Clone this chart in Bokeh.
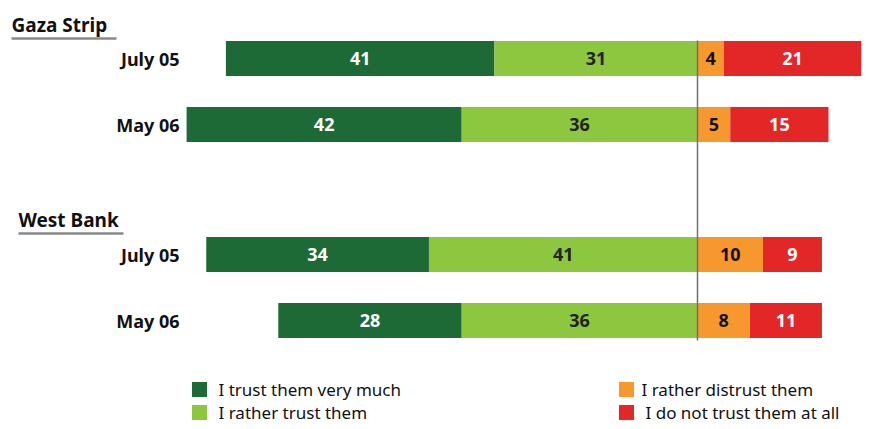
from bokeh.plotting import figure
from bokeh.models import Range1d, ColumnDataSource
from bokeh.core.properties import value
from bokeh.embed import file_html
from bokeh.resources import INLINE

# ---- data ----
regions = ["Gaza Strip", "West Bank"]
periods = ["July 05", "May 06"]
very_much = [41, 42, 34, 28]
rather_trust = [31, 36, 41, 36]
rather_distrust = [4, 5, 10, 8]
not_at_all = [21, 15, 9, 11]
series_names = ["I trust them very much", "I rather trust them",
                "I rather distrust them", "I do not trust them at all"]
colors = ["#1E6A36", "#8DC63F", "#F7982F", "#E32726"]
label_colors = ["white", "#222222", "#111111", "white"]

FONT = "Noto Sans"
W, H = 876, 428
OFF = 0          # page offset of the canvas
CENTER = 697.0   # frame px of the zero line
PX = 6.55        # px per percentage point

def xv(px_page):
    return (px_page - OFF - CENTER) / PX

def yv(py_page):
    return py_page - OFF

p = figure(width=W, height=H, output_backend="svg", toolbar_location=None,
           x_range=Range1d(-CENTER / PX, (W - CENTER) / PX),
           y_range=Range1d(H, 0), min_border=0,
           x_axis_location=None, y_axis_location=None)
p.grid.visible = False
p.outline_line_color = None
p.background_fill_color = "white"

# row positions (layout)
row_y = []
for g in range(len(regions)):
    for i in range(len(periods)):
        row_y.append(yv(58 + 196 * g + 66 * i))

n = len(very_much)
segs = []
for k in range(n):
    segs.append([
        (-(very_much[k] + rather_trust[k]), -rather_trust[k], very_much[k]),
        (-rather_trust[k], 0, rather_trust[k]),
        (0, rather_distrust[k], rather_distrust[k]),
        (rather_distrust[k], rather_distrust[k] + not_at_all[k], not_at_all[k]),
    ])

for s in range(4):
    src = ColumnDataSource(dict(
        y=row_y,
        left=[segs[k][s][0] for k in range(n)],
        right=[segs[k][s][1] for k in range(n)],
        mid=[(segs[k][s][0] + segs[k][s][1]) / 2 for k in range(n)],
        lab=[str(segs[k][s][2]) for k in range(n)],
    ))
    p.hbar(y="y", left="left", right="right", height=35, source=src,
           fill_color=colors[s], line_color=None)
    p.text(x="mid", y="y", text="lab", source=src, text_align="center",
           text_baseline="middle", text_font=value(FONT), text_font_style="bold",
           text_font_size="18px", text_color=label_colors[s])

# zero line
p.segment(x0=[0], x1=[0], y0=[yv(40)], y1=[yv(340)], line_color="#707070", line_width=1.5)

# period labels
p.text(x=[xv(179)] * n, y=row_y, text=periods * len(regions), text_align="right",
       text_baseline="middle", text_font=value(FONT), text_font_style="bold",
       text_font_size="18px", text_color="#111111")

# region headings
p.text(x=[xv(11), xv(18)], y=[yv(24), yv(219)], text=regions, text_align="left",
       text_baseline="middle", text_font=value(FONT), text_font_style="bold",
       text_font_size="19px", text_color="#111111")
p.segment(x0=[xv(11), xv(18)], x1=[xv(116), xv(123)], y0=[yv(38), yv(233)],
          y1=[yv(38), yv(233)], line_color="#888888", line_width=2.5)

# legend
leg_x = [xv(199), xv(199), xv(626), xv(626)]
leg_y = [yv(389), yv(412), yv(389), yv(412)]
leg_tx = [xv(218), xv(218), xv(641), xv(645)]
order = [0, 1, 2, 3]
p.rect(x=leg_x, y=leg_y, width=15, height=15, width_units="screen",
       height_units="screen", fill_color=[colors[i] for i in order], line_color=None)
p.text(x=leg_tx, y=leg_y, text=[series_names[i] for i in order], text_align="left",
       text_baseline="middle", text_font=value(FONT), text_font_size="17px",
       text_color="#111111")

open("out.html", "w").write(file_html(p, INLINE))
